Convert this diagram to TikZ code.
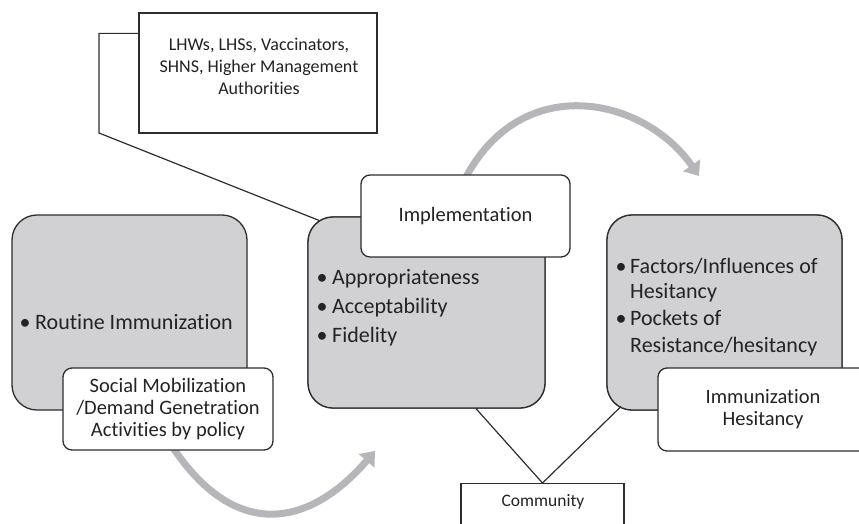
\documentclass[tikz,border=0pt]{standalone}
\usepackage{fontspec}
\setmainfont{Carlito}[Ligatures={NoCommon}]
\usetikzlibrary{arrows.meta,calc}
\definecolor{boxgray}{RGB}{209,209,211}
\definecolor{arrowgray}{RGB}{182,182,186}
\definecolor{edge}{RGB}{45,45,45}
\definecolor{ink}{RGB}{35,35,35}

\begin{document}
\begin{tikzpicture}[x=1pt,y=-1pt,
  graybox/.style={draw=edge, line width=1.3pt, fill=boxgray, rounded corners=25pt, inner sep=0pt},
  labelbox/.style={draw=edge, line width=1.3pt, fill=white, rounded corners=9pt,
    align=center, inner sep=0pt, text=ink, font=\fontsize{20.5}{22}\selectfont},
  plainbox/.style={draw=edge, line width=1.3pt, fill=white, inner sep=0pt},
  itemtext/.style={anchor=base west, inner sep=0pt, text=ink, font=\fontsize{22}{25}\selectfont},
  itemdot/.style={anchor=base, inner sep=0pt, text=ink, font=\fontsize{22}{25}\selectfont},
  smalltext/.style={anchor=base, inner sep=0pt, text=ink, font=\fontsize{18}{21}\selectfont},
  flowarrow/.style={draw=arrowgray, line width=7pt, -{Triangle[width=20pt,length=13pt]}},
  link/.style={draw=edge, line width=1.2pt}]

\useasboundingbox (0,0) rectangle (859,523);
\clip (0,0) rectangle (859,523);

% ---- cycle arrows (drawn first, they slip behind the boxes) ----
\draw[flowarrow] (462,185) .. controls (517,69.5) and (643,95.5) .. (699,176);
\draw[flowarrow] (168,440) .. controls (235,546.5) and (312,524.5) .. (375,451);

% ---- boxes (geometry only) ----
\node[graybox, minimum width=235pt, minimum height=195pt] (ri)  at (129.5,312.5) {};
\node[graybox, minimum width=237pt, minimum height=191pt] (mid) at (426.5,312.5) {};
\node[graybox, minimum width=235pt, minimum height=195pt] (hes) at (724.5,312.5) {};

% ---- connectors ----
\node[plainbox, minimum width=238pt, minimum height=120pt] (topbox) at (258,73) {};
\coordinate (bend) at (99,133);
\draw[link] ([yshift=-21pt]topbox.north west) -| (bend)
  -- ($(mid.north west)+(14,5)$);

\node[plainbox, minimum width=163pt, minimum height=90pt, anchor=north] (comm) at (542.5,483) {};
\draw[link] ($(mid.south west)+(166,-3)$) -- (comm.north)
  -- ($(hes.south west)+(15.5,-5)$);
% redraw the box outlines over the connector ends
\node[graybox, minimum width=237pt, minimum height=191pt] at (mid) {};
\node[graybox, minimum width=235pt, minimum height=195pt] at (hes) {};
\node[plainbox, minimum width=163pt, minimum height=90pt, anchor=north] at (542.5,483) {};

% ---- white label boxes ----
\node[labelbox, minimum width=210pt, minimum height=82pt] (social) at (168,409)
  {Social Mobilization\\/Demand Genetration\\Activities by policy};
\node[labelbox, minimum width=209pt, minimum height=82pt] (impl) at (465.5,216)
  {Implementation};
\node[labelbox, minimum width=210pt, minimum height=83pt] (ihes) at (763,409.5)
  {Immunization\\Hesitancy};

% ---- text ----
\node[smalltext] (t1) at (259,50.7) {LHWs, LHSs, Vaccinators,};
\node[smalltext] (t2) at (259,72.3) {SHNS, Higher Management};
\node[smalltext] (t3) at (259,94) {Authorities};

\node[itemdot]  (rd) at (25,329) {\textbullet};
\node[itemtext] (rt) at (35,329) {Routine Immunization};

\node[itemdot]  (m1d) at (322,284) {\textbullet};
\node[itemtext] (m1)  at (332,284) {Appropriateness};
\node[itemdot]  (m2d) at (322,313) {\textbullet};
\node[itemtext] (m2)  at (332,313) {Acceptability};
\node[itemdot]  (m3d) at (322,342) {\textbullet};
\node[itemtext] (m3)  at (332,342) {Fidelity};

\node[itemdot]  (h1d) at (621,273) {\textbullet};
\node[itemtext] (h1)  at (630,273) {Factors/Influences of};
\node[itemtext] (h1b) at (630,298) {Hesitancy};
\node[itemdot]  (h2d) at (621,325) {\textbullet};
\node[itemtext] (h2)  at (630,325) {Pockets of};
\node[itemtext] (h2b) at (630,352) {Resistance/hesitancy};

\node[anchor=base, inner sep=0pt, text=ink, font=\fontsize{17.5}{20}\selectfont] (ct) at (543,506.7) {Community};
\end{tikzpicture}
\end{document}
